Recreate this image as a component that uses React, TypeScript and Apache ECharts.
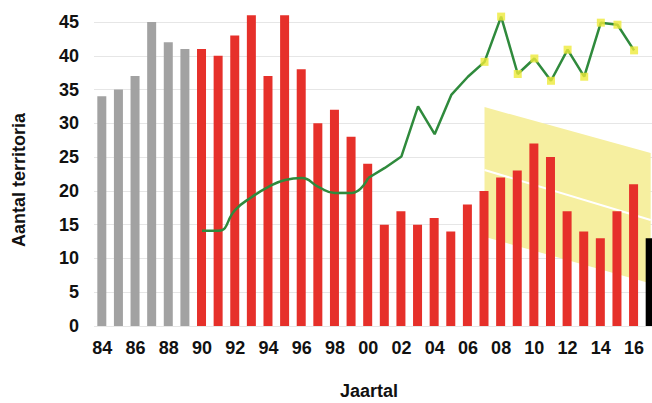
import React, { useEffect, useRef } from "react";
import * as echarts from "echarts";

const years = [
  "84", "85", "86", "87", "88", "89", "90", "91", "92", "93", "94", "95", "96", "97", "98", "99",
  "00", "01", "02", "03", "04", "05", "06", "07", "08", "09", "10", "11", "12", "13", "14", "15", "16", "17",
];

// Territories per year
const grayValues = [34, 35, 37, 45, 42, 41]; // 1984-1989
const redValues = [
  41, 40, 43, 46, 37, 46, 38, 30, 32, 28, // 1990-1999
  24, 15, 17, 15, 16, 14, 18, 20, 22, 23, // 2000-2009
  27, 25, 17, 14, 13, 17, 21, // 2010-2016
];
const blackValue = 13; // 2017 (cut off)

// Green line: smooth part 1990-2000, straight part 2000-2006, marked part 2007-2016
const greenSmooth = [14.1, 14.1, 17.2, 19.1, 20.6, 21.6, 21.9, 20.6, 19.7, 19.7, 21.9];
const greenStraight = [21.9, 23.4, 25.1, 32.5, 28.4, 34.2, 36.9];
const greenMarked = [39.1, 45.8, 37.3, 39.6, 36.3, 40.9, 36.9, 44.9, 44.6, 40.8];

// Trend band 2007 -> 2017
const bandYears = ["07", "17"];
const bandLower = [13.2, 6.3];
const bandUpper = [32.4, 25.6];
const trendLine = [23.1, 15.7];

const yTicks = [0, 5, 10, 15, 20, 25, 30, 35, 40, 45];

export default function App() {
  const ref = useRef<HTMLDivElement>(null);

  useEffect(() => {
    if (!ref.current) return;
    const chart = echarts.init(ref.current, null, { renderer: "svg" });
    const idx = (y: string) => years.indexOf(y);

    const grayData = years.map((_, i) => (i < grayValues.length ? grayValues[i] : null));
    const redStart = idx("90");
    const redData = years.map((_, i) =>
      i >= redStart && i - redStart < redValues.length ? redValues[i - redStart] : null
    );
    const blackData = years.map((y) => (y === "17" ? blackValue : null));

    const smoothData = years.map((_, i) =>
      i >= redStart && i - redStart < greenSmooth.length ? greenSmooth[i - redStart] : null
    );
    const s2 = idx("00");
    const straightAll = [...greenStraight, ...greenMarked];
    const straightData = years.map((_, i) =>
      i >= s2 && i - s2 < straightAll.length ? straightAll[i - s2] : null
    );
    const m0 = idx("07");
    const markerData = years.map((_, i) =>
      i >= m0 && i - m0 < greenMarked.length ? greenMarked[i - m0] : null
    );

    const bandData = bandYears.map((y, k) => [idx(y), bandLower[k], bandUpper[k]]);
    const trendData = bandYears.map((y, k) => [idx(y), trendLine[k]]);

    const font = "'Liberation Sans', Arial, sans-serif";

    chart.setOption({
      animation: false,
      backgroundColor: "#ffffff",
      grid: {
        left: 94,
        right: -7,
        top: 22,
        bottom: 77,
        containLabel: false,
        outerBoundsMode: "none",
      },
      xAxis: {
        type: "category",
        data: years,
        boundaryGap: true,
        axisLine: { show: false },
        axisTick: { show: false },
        axisLabel: {
          interval: 1,
          color: "#111",
          fontWeight: "bold",
          fontSize: 18,
          fontFamily: font,
          margin: 13,
        },
        splitLine: { show: false },
      },
      yAxis: {
        type: "value",
        min: yTicks[0],
        max: yTicks[yTicks.length - 1],
        interval: 5,
        axisLine: { show: false },
        axisTick: { show: false },
        axisLabel: {
          color: "#111",
          fontWeight: "bold",
          fontSize: 18,
          fontFamily: font,
          margin: 15,
        },
        splitLine: { show: true, lineStyle: { color: "#e6e6e6", width: 1 } },
      },
      graphic: [
        {
          type: "text",
          x: 369,
          y: 391,
          style: {
            text: "Jaartal",
            fontWeight: "bold",
            fontSize: 18,
            fontFamily: font,
            fill: "#111",
            align: "center",
            verticalAlign: "middle",
          },
        },
        {
          type: "text",
          x: 19,
          y: 180,
          rotation: Math.PI / 2,
          style: {
            text: "Aantal territoria",
            fontWeight: "bold",
            fontSize: 18,
            fontFamily: font,
            fill: "#111",
            align: "center",
            verticalAlign: "middle",
          },
        },
      ],
      series: [
        {
          type: "custom",
          z: 1,
          silent: true,
          data: bandData,
          encode: { x: 0, y: [1, 2] },
          renderItem: (params: any, api: any) => {
            if (params.dataIndex !== 0) return null;
            const a = bandData[0];
            const b = bandData[1];
            const pts = [
              api.coord([a[0], a[2]]),
              api.coord([b[0], b[2]]),
              api.coord([b[0], b[1]]),
              api.coord([a[0], a[1]]),
            ];
            return {
              type: "polygon",
              shape: { points: pts },
              style: { fill: "#f6efa0", stroke: null },
            };
          },
        },
        {
          type: "line",
          z: 1.5,
          data: trendData,
          showSymbol: false,
          clip: false,
          lineStyle: { color: "#ffffff", width: 2 },
        },
        {
          type: "bar",
          z: 2,
          data: grayData,
          barWidth: 9,
          barGap: "-100%",
          clip: false,
          itemStyle: { color: "#a2a2a2" },
        },
        {
          type: "bar",
          z: 2,
          data: redData,
          barWidth: 9,
          barGap: "-100%",
          clip: false,
          itemStyle: { color: "#e6302a" },
        },
        {
          type: "bar",
          z: 2,
          data: blackData,
          barWidth: 10,
          barGap: "-100%",
          clip: false,
          itemStyle: { color: "#000000" },
        },
        {
          type: "line",
          z: 4,
          data: smoothData,
          smooth: 0.5,
          showSymbol: false,
          clip: false,
          lineStyle: { color: "#2f8a3c", width: 2.5 },
        },
        {
          type: "line",
          z: 4,
          data: straightData,
          showSymbol: false,
          clip: false,
          lineStyle: { color: "#2f8a3c", width: 2.5 },
        },
        {
          type: "scatter",
          z: 5,
          data: markerData,
          symbol: "rect",
          symbolSize: 8,
          clip: false,
          itemStyle: { color: "#eeea3a" },
        },
      ],
    });
    return () => chart.dispose();
  }, []);

  return (
    <div
      ref={ref}
      style={{ position: "absolute", left: 0, top: 0, width: 652, height: 403 }}
    />
  );
}
